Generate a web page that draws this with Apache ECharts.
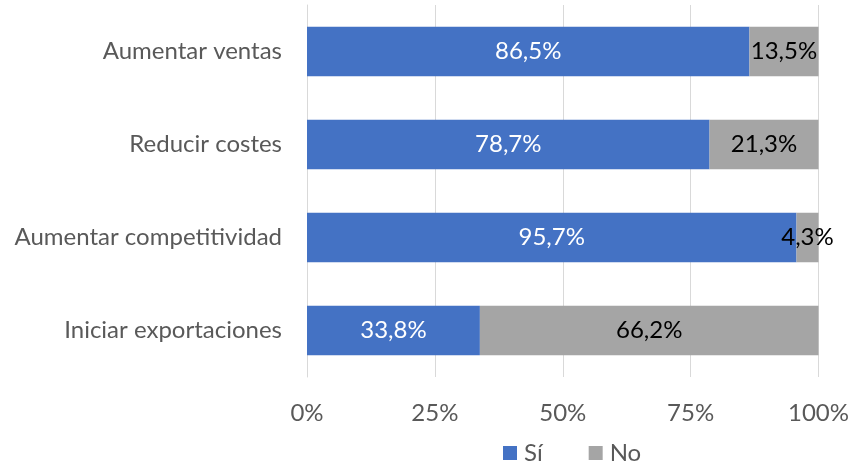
<!DOCTYPE html>
<html><head><meta charset="utf-8">
<script src="https://cdn.jsdelivr.net/npm/echarts@6/dist/echarts.min.js"></script>
<style>html,body{margin:0;padding:0;background:#fff}#c{width:852px;height:464px}</style>
</head><body><div id="c"></div>
<script>
var categories = ['Aumentar ventas', 'Reducir costes', 'Aumentar competitividad', 'Iniciar exportaciones'];
var si = [86.5, 78.7, 95.7, 33.8];
var no = [13.5, 21.3, 4.3, 66.2];
var xTicks = ['0%', '25%', '50%', '75%', '100%'];
var FONT = 'Lato';
var FS = 24;
var fmt = function (p) { return p.value.toFixed(1).replace('.', ',') + '%'; };
var chart = echarts.init(document.getElementById('c'));
chart.setOption({
  animation: false,
  textStyle: { fontFamily: FONT },
  grid: { left: 307, right: 31, top: 5, bottom: 87, containLabel: false },
  legend: {
    bottom: -6, left: 498, itemWidth: 14, itemHeight: 14, itemGap: 46, icon: 'rect',
    textStyle: { fontFamily: FONT, fontSize: FS, color: '#595959', padding: [0, 0, 0, 2] },
    data: ['Sí', 'No']
  },
  xAxis: {
    type: 'value', min: 0, max: 100, interval: 25,
    axisLine: { show: false }, axisTick: { show: false },
    splitLine: { lineStyle: { color: '#d9d9d9', width: 1 } },
    axisLabel: { margin: 24, fontSize: FS, color: '#595959', fontFamily: FONT,
      formatter: function (v) { return xTicks[Math.round(v / 25)]; } }
  },
  yAxis: {
    type: 'category', data: categories, inverse: true,
    axisLine: { show: true, lineStyle: { color: '#d9d9d9' } }, axisTick: { show: false },
    axisLabel: { margin: 25, fontSize: FS, color: '#595959', fontFamily: FONT }
  },
  series: [
    { name: 'Sí', type: 'bar', stack: 't', data: si, barWidth: '53%',
      itemStyle: { color: '#4472C4' },
      label: { show: true, position: 'inside', color: '#fff', fontSize: FS, fontFamily: FONT, formatter: fmt } },
    { name: 'No', type: 'bar', stack: 't', data: no, barWidth: '53%',
      itemStyle: { color: '#A5A5A5' },
      label: { show: true, position: 'inside', color: '#000', fontSize: FS, fontFamily: FONT, formatter: fmt } }
  ]
});
</script></body></html>
